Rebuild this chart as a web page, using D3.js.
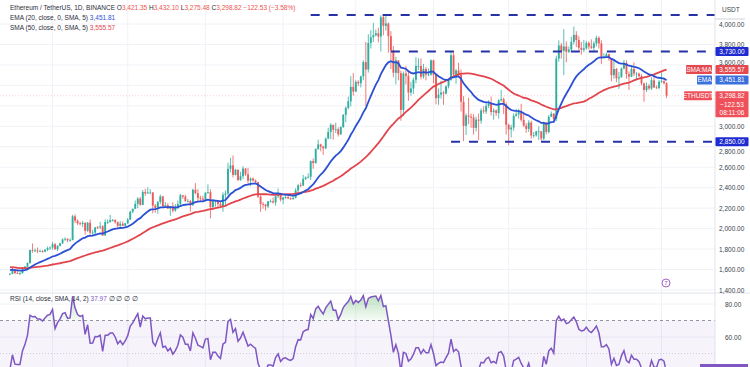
<!DOCTYPE html>
<html><head><meta charset="utf-8">
<script src="https://cdn.jsdelivr.net/npm/d3@7"></script>
<style>html,body{margin:0;padding:0;background:#fff;overflow:hidden}svg{display:block;font-family:'Liberation Sans',Arial,sans-serif}</style>
</head><body><svg id="c" width="750" height="367"></svg>
<script>
// ---------- DATA (ETH/USDT daily) ----------
const startDate = [2023, 9, 15];          // first visible candle (UTC y, m0, d)
const firstOpen = 1555;
// 50 daily closes before the first visible candle (indicator warm-up)
const priorCloses = [1645,1657,1652,1730,1705,1645,
 1628,1636,1636,1628,1633,1633,1645,1635,1635,1616,1550,1594,1608,1628,1640,1635,1623,1637,1645,1624,1584,1594,1593,1580,1587,1593,1597,1653,1670,1671,
 1733,1664,1657,1646,1611,1648,1633,1632,1580,1567,1565,1540,1552,1555];
const closes = [
 1558,1600,1566,1565,1565,1605,1628,1664,1790,1785,1787,1780,1780,1775,1793,1810,1815,
 1847,1800,1833,1857,1894,1900,1886,1889,2120,2077,2052,2045,2055,1978,2058,1960,1961,2012,2011,2022,1933,2063,2063,2082,2083,2063,2028,2048,2028,2052,
 2088,2165,2194,2242,2293,2232,2358,2344,2353,2353,2225,2202,2260,2315,2220,2229,2196,2217,2176,2201,2240,2326,2313,2270,2270,2230,2380,2346,2300,2292,2282,
 2352,2356,2210,2268,2268,2240,2222,2330,2344,2585,2618,2525,2575,2473,2512,2587,2530,2469,2490,2470,2454,2314,2240,2236,2218,2267,2268,2256,2317,2343,2283,
 2304,2308,2296,2290,2300,2373,2424,2422,2486,2500,2507,2660,2641,2778,2823,2802,2785,2880,2945,3015,2967,2971,2922,2992,3112,3180,3244,3385,3340,
 3434,3421,3488,3628,3555,3815,3870,3890,3910,3878,4066,3982,4005,3881,3740,3523,3645,3520,3160,3516,3493,3330,3370,3455,3590,3590,3485,3560,3505,3505,3645,
 3505,3275,3310,3330,3320,3390,3455,3695,3505,3545,3505,3240,3005,3105,3095,3085,2985,3065,3055,3155,3145,3200,3220,3140,3155,3130,3255,3265,3215,3015,
 2970,2988,3102,3117,3137,3063,3006,2975,3037,2910,2912,2950,2950,2880,3037,2945,3093,3123,3071,3662,3790,3737,3780,3728,3750,3825,3893,3844,3767,3748,3762,
 3815,3780,3767,3810,3865,3810,3680,3680,3705,3665,3500,3560,3470,3480,3565,3620,3510,3485,3560,3515,3515,3490,3420,3355,3395,3370,3450,3380,3375,3435,
 3440,3421.35,3298.82];
const highs = [
 1565,1630,1605,1585,1575,1625,1635,1670,1795,1855,1805,1815,1795,1790,1800,1825,1825,
 1868,1860,1835,1862,1905,1915,1905,1905,2135,2140,2090,2068,2075,2065,2065,2090,1988,2015,2025,2065,2035,2090,2090,2133,2095,2093,2070,2075,2070,2055,
 2105,2175,2195,2275,2307,2310,2378,2390,2403,2385,2356,2240,2270,2333,2320,2260,2250,2220,2258,2240,2275,2340,2330,2330,2290,2280,2390,2445,2386,2322,2322,
 2354,2432,2385,2290,2277,2270,2260,2355,2372,2645,2690,2715,2585,2578,2555,2610,2590,2595,2500,2500,2480,2460,2340,2260,2240,2270,2285,2305,2320,2390,2350,
 2310,2325,2320,2305,2335,2395,2435,2450,2525,2510,2540,2665,2685,2785,2870,2830,2810,2890,2985,3030,3015,3035,2990,3000,3120,3195,3290,3490,3520,
 3450,3450,3495,3645,3825,3900,3940,4010,3945,3965,4085,4093,4083,4015,3930,3785,3680,3615,3545,3535,3590,3545,3435,3475,3675,3665,3665,3610,3580,3565,3655,
 3650,3510,3370,3445,3345,3400,3460,3730,3725,3560,3620,3555,3295,3125,3280,3125,3120,3095,3125,3175,3195,3225,3255,3290,3175,3165,3265,3355,3280,3235,
 3025,3015,3125,3170,3170,3220,3130,3030,3060,3055,2945,2955,3000,2955,3045,3040,3110,3145,3130,3690,3840,3815,3950,3830,3780,3875,3975,3930,3880,3825,3845,
 3835,3830,3850,3830,3885,3880,3840,3715,3720,3710,3665,3655,3570,3530,3575,3650,3645,3535,3585,3625,3530,3525,3510,3425,3430,3415,3480,3490,3400,3455,
 3525,3465,3432.10];
const lows = [
 1545,1555,1555,1555,1545,1560,1600,1625,1655,1765,1770,1760,1770,1765,1768,1780,1790,
 1795,1790,1780,1825,1850,1880,1865,1873,1885,2055,2035,2030,2015,1940,1968,1930,1930,1940,1995,1995,1930,1930,2045,2060,2070,2048,2000,2010,2025,2020,
 2045,2085,2150,2190,2200,2225,2230,2320,2340,2335,2150,2155,2145,2238,2215,2215,2192,2125,2158,2165,2190,2230,2290,2260,2255,2165,2222,2335,2265,2270,2265,
 2265,2340,2100,2200,2215,2210,2215,2165,2230,2325,2550,2500,2520,2470,2470,2485,2515,2425,2415,2460,2450,2300,2165,2195,2175,2200,2255,2245,2225,2300,2265,
 2240,2290,2290,2280,2280,2295,2350,2405,2415,2475,2490,2475,2585,2635,2770,2755,2720,2775,2875,2875,2870,2935,2900,2915,2985,3040,3165,3195,3300,
 3335,3395,3380,3450,3200,3525,3760,3825,3880,3820,3730,3890,3935,3720,3560,3480,3410,3450,3055,3100,3410,3250,3300,3315,3420,3550,3460,3465,3450,3490,3495,
 3420,3215,3210,3270,3210,3310,3370,3445,3480,3415,3485,3145,2855,2915,3020,2985,2920,2950,2865,3025,3125,3120,3180,3105,3065,3100,3075,3240,3120,2920,
 2815,2890,2955,3095,3075,3045,2995,2935,2945,2880,2890,2900,2865,2860,2865,2920,2930,3090,3050,3050,3630,3660,3500,3625,3715,3730,3800,3775,3740,3700,3725,
 3750,3750,3755,3730,3780,3760,3610,3665,3670,3640,3440,3465,3430,3365,3475,3555,3465,3355,3480,3490,3450,3480,3400,3240,3335,3355,3355,3375,3365,3360,
 3425,3410,3275.48];
const priceTicks = [1400,1600,1800,2000,2200,2400,2600,2800,3000,3200,3400,3600,3800,4000];
const priceLabelTicks = [1400,1600,1800,2000,2200,2400,2600,2800,3000,3600,3800,4000]; // others hidden under tags
const rsiTicks = [80,60,40];
const rsiLabelTicks = [80,60];
const levelPrices = [4088, 3730, 2850];
const levelStartIdx = [120, 152, 176];   // candle where each drawn level begins
const headerTitle = "Ethereum / TetherUS, 1D, BINANCE";
const ohlcText = ["O3,421.35","H3,432.10","L3,275.48","C3,298.82","\u2212122.53 (\u22123.58%)"];
const emaLabel = "EMA (20, close, 0, SMA, 5)", emaValue = "3,451.81";
const smaLabel = "SMA (50, close, 0, SMA, 5)", smaValue = "3,555.57";
const rsiLabel = "RSI (14, close, SMA, 14, 2)", rsiValue = "37.97";
const lastTagLines = ["3,298.82","\u2212122.53","08:11:06"];

// ---------- SETUP ----------
const svg = d3.select('#c');
const W = 750, H = 367, axisX = 715, split = 293;
const n = closes.length;
const dates = d3.range(n).map(i => new Date(Date.UTC(startDate[0], startDate[1], startDate[2] + i)));
const opens = closes.map((c, i) => i === 0 ? firstOpen : closes[i - 1]);

const x = d3.scaleBand().domain(d3.range(n)).range([9, 667.5]).paddingInner(0.25);
const cx = i => x(i) + x.bandwidth() / 2;
const y = d3.scaleLinear().domain([1400, 4000]).range([290, 24]);
const r = d3.scaleLinear().domain([40, 80]).range([370, 304]);

// indicators
const all = priorCloses.concat(closes), off = priorCloses.length;
const sma = all.map((v, i) => i < 49 ? null : d3.mean(all.slice(i - 49, i + 1)));
const ema = []; const a = 2 / 21;
all.forEach((v, i) => ema.push(i === 0 ? v : a * v + (1 - a) * ema[i - 1]));
const rsi = new Array(all.length).fill(null);
let ag = 0, al = 0;
for (let i = 1; i < all.length; i++) {
  const ch = all[i] - all[i - 1], g = Math.max(ch, 0), l = Math.max(-ch, 0);
  if (i <= 14) { ag += g / 14; al += l / 14; if (i === 14) rsi[i] = 100 - 100 / (1 + ag / al); }
  else { ag = (ag * 13 + g) / 14; al = (al * 13 + l) / 14; rsi[i] = 100 - 100 / (1 + ag / al); }
}
const smaV = sma.slice(off), emaV = ema.slice(off), rsiV = rsi.slice(off);

const defs = svg.append('defs');
defs.append('clipPath').attr('id', 'pp').append('rect').attr('x', 0).attr('y', 0).attr('width', axisX).attr('height', split);
defs.append('clipPath').attr('id', 'rp').append('rect').attr('x', 0).attr('y', split).attr('width', axisX).attr('height', H - split);
const gr = defs.append('linearGradient').attr('id', 'ob').attr('gradientUnits', 'userSpaceOnUse')
  .attr('x1', 0).attr('x2', 0).attr('y1', r(92)).attr('y2', r(70));
gr.append('stop').attr('offset', 0).attr('stop-color', '#4caf50').attr('stop-opacity', 0.5);
gr.append('stop').attr('offset', 1).attr('stop-color', '#4caf50').attr('stop-opacity', 0.05);

svg.append('rect').attr('width', W).attr('height', H).attr('fill', '#fff');

// grid
const monthIdx = d3.range(n).filter(i => dates[i].getUTCDate() === 1);
const grid = svg.append('g').attr('stroke', '#f0f2f7').attr('stroke-width', 1);
grid.selectAll('line.v').data(monthIdx).join('line').attr('x1', i => cx(i)).attr('x2', i => cx(i)).attr('y1', 0).attr('y2', H);
grid.selectAll('line.h').data(priceTicks).join('line').attr('x1', 0).attr('x2', axisX).attr('y1', d => y(d)).attr('y2', d => y(d));
grid.selectAll('line.r').data(rsiTicks).join('line').attr('x1', 0).attr('x2', axisX).attr('y1', d => r(d)).attr('y2', d => r(d));

// ---------- PRICE PANE ----------
const pp = svg.append('g').attr('clip-path', 'url(#pp)');
pp.append('line').attr('x1', 0).attr('x2', axisX).attr('y1', y(closes[n - 1])).attr('y2', y(closes[n - 1]))
  .attr('stroke', '#ef5350').attr('stroke-opacity', 0.35).attr('stroke-width', 0.8).attr('stroke-dasharray', '1,2');
const up = '#2fae9f', dn = '#ee5b5b';
const cg = pp.append('g');
const cd = d3.range(n);
cg.selectAll('line').data(cd).join('line')
  .attr('x1', i => cx(i)).attr('x2', i => cx(i))
  .attr('y1', i => y(Math.max(highs[i], opens[i], closes[i]))).attr('y2', i => y(Math.min(lows[i], opens[i], closes[i])))
  .attr('stroke', i => closes[i] >= opens[i] ? up : dn).attr('stroke-width', 0.8);
cg.selectAll('rect').data(cd).join('rect')
  .attr('x', i => x(i)).attr('width', x.bandwidth())
  .attr('y', i => y(Math.max(opens[i], closes[i])))
  .attr('height', i => Math.max(0.8, Math.abs(y(opens[i]) - y(closes[i]))))
  .attr('fill', i => closes[i] >= opens[i] ? up : dn);
const ln = vals => d3.line().defined(d => d != null).x((d, i) => cx(i)).y(d => y(d))(vals);
pp.append('path').attr('d', ln(smaV)).attr('fill', 'none').attr('stroke', '#e2464c').attr('stroke-width', 1.8);
pp.append('path').attr('d', ln(emaV)).attr('fill', 'none').attr('stroke', '#2b50d4').attr('stroke-width', 1.8);
pp.selectAll('line.lvl').data(levelPrices).join('line')
  .attr('x1', (d, k) => cx(levelStartIdx[k])).attr('x2', axisX)
  .attr('y1', d => y(d)).attr('y2', d => y(d))
  .attr('stroke', '#2632a6').attr('stroke-width', 2).attr('stroke-dasharray', '9,9');

// event marker
svg.append('circle').attr('cx', 666).attr('cy', 283).attr('r', 4).attr('fill', '#fff').attr('stroke', '#a24fc0').attr('stroke-width', 0.9);
svg.append('text').attr('x', 666).attr('y', 285.3).attr('text-anchor', 'middle').attr('font-size', 6).attr('fill', '#a24fc0').text('7');

// ---------- RSI PANE ----------
svg.append('line').attr('x1', 0).attr('x2', W).attr('y1', split).attr('y2', split).attr('stroke', '#e0e3eb');
const rp = svg.append('g').attr('clip-path', 'url(#rp)');
rp.append('rect').attr('x', 0).attr('width', axisX).attr('y', r(70)).attr('height', r(30) - r(70)).attr('fill', '#7e57c2').attr('fill-opacity', 0.07);
rp.append('line').attr('x1', 0).attr('x2', axisX).attr('y1', r(70)).attr('y2', r(70)).attr('stroke', '#787b86').attr('stroke-width', 0.8).attr('stroke-dasharray', '3,3');
rp.append('line').attr('x1', 0).attr('x2', axisX).attr('y1', r(50)).attr('y2', r(50)).attr('stroke', '#787b86').attr('stroke-opacity', 0.4).attr('stroke-width', 0.8).attr('stroke-dasharray', '1,2');
rp.append('path').attr('d', d3.area().x((d, i) => cx(i)).y0(r(70)).y1(d => r(Math.max(d, 70)))(rsiV)).attr('fill', 'url(#ob)');
rp.append('path').attr('d', d3.line().x((d, i) => cx(i)).y(d => r(d))(rsiV)).attr('fill', 'none').attr('stroke', '#7e57c2').attr('stroke-width', 1.5);

// ---------- AXES ----------
svg.append('line').attr('x1', axisX).attr('x2', axisX).attr('y1', 0).attr('y2', H).attr('stroke', '#e0e3eb');
const fmt = d3.format(',.2f');
const ya = svg.append('g').attr('transform', `translate(${axisX},0)`)
  .call(d3.axisRight(y).tickValues(priceLabelTicks).tickFormat(fmt).tickSize(0).tickPadding(4));
const ra = svg.append('g').attr('transform', `translate(${axisX},0)`)
  .call(d3.axisRight(r).tickValues(rsiLabelTicks).tickFormat(fmt).tickSize(0).tickPadding(10));
[ya, ra].forEach(g => { g.select('.domain').remove(); g.selectAll('text').attr('font-size', 6.5).attr('fill', '#3b3f4a').attr('font-family', "'Liberation Sans',Arial,sans-serif"); });
// nudge the two labels that sit partly behind value tags
ya.selectAll('.tick').filter(d => d === 3600).select('text').attr('y', -3);
ya.selectAll('.tick').filter(d => d === 2800).select('text').attr('y', 4.2);
svg.append('text').attr('x', 722).attr('y', 12).attr('font-size', 6.5).attr('fill', '#3b3f4a').text('USDT');
svg.append('line').attr('x1', axisX).attr('x2', 745).attr('y1', 19).attr('y2', 19).attr('stroke', '#cfd3dc');

function tag(x0, yc, w, lines, fill) {
  const hh = 9;
  const g = svg.append('g');
  g.append('rect').attr('x', x0).attr('y', yc - hh / 2).attr('width', w).attr('height', hh + (lines.length - 1) * 8.5).attr('rx', 1).attr('fill', fill);
  lines.forEach((t, k) => g.append('text').attr('x', x0 + w / 2).attr('y', yc + 2.3 + k * 8.5).attr('text-anchor', 'middle')
    .attr('font-size', 6.5).attr('fill', '#fff').text(t));
}
tag(715.5, y(3730), 33, ['3,730.00'], '#1f2bd0');
tag(715.5, y(2850), 33, ['2,850.00'], '#1f2bd0');
tag(686, y(3555.57), 26, ['SMA:MA'], '#e5484f');
tag(715.5, y(3555.57), 33, [smaValue], '#e5484f');
tag(697, y(3451.81), 15, ['EMA'], '#3a6fde');
tag(715.5, y(3451.81), 33, [emaValue], '#3a6fde');
tag(684, y(3298.82), 28, ['ETHUSDT'], '#ef5059');
tag(715.5, y(3298.82), 33, lastTagLines, '#ef5059');
svg.append('rect').attr('x', 700).attr('y', 364).attr('width', 48).attr('height', 9).attr('fill', '#7e57c2');

// ---------- HEADER ----------
const hd = svg.append('g').attr('font-size', 6.5);
const t1 = hd.append('text').attr('x', 10).attr('y', 9.5).attr('fill', '#2a2e39');
t1.append('tspan').text(headerTitle + '  ');
ohlcText.forEach((t, k) => {
  if (k < 4) { t1.append('tspan').attr('fill', '#2a2e39').text(t[0]); t1.append('tspan').attr('fill', '#ef5350').text(t.slice(1) + '  '); }
  else t1.append('tspan').attr('fill', '#ef5350').text(t);
});
const t2 = hd.append('text').attr('x', 10).attr('y', 19.5).attr('fill', '#2a2e39');
t2.append('tspan').text(emaLabel + '  '); t2.append('tspan').attr('fill', '#2b50d4').text(emaValue);
const t3 = hd.append('text').attr('x', 10).attr('y', 29.5).attr('fill', '#2a2e39');
t3.append('tspan').text(smaLabel + '  '); t3.append('tspan').attr('fill', '#e2464c').text(smaValue);
const t4 = hd.append('text').attr('x', 10).attr('y', 301).attr('fill', '#2a2e39');
t4.append('tspan').text(rsiLabel + '  '); t4.append('tspan').attr('fill', '#7e57c2').text(rsiValue + '  ');
t4.append('tspan').attr('fill', '#2a2e39').text('\u2205 \u2205 \u2205 \u2205');
</script></body></html>
